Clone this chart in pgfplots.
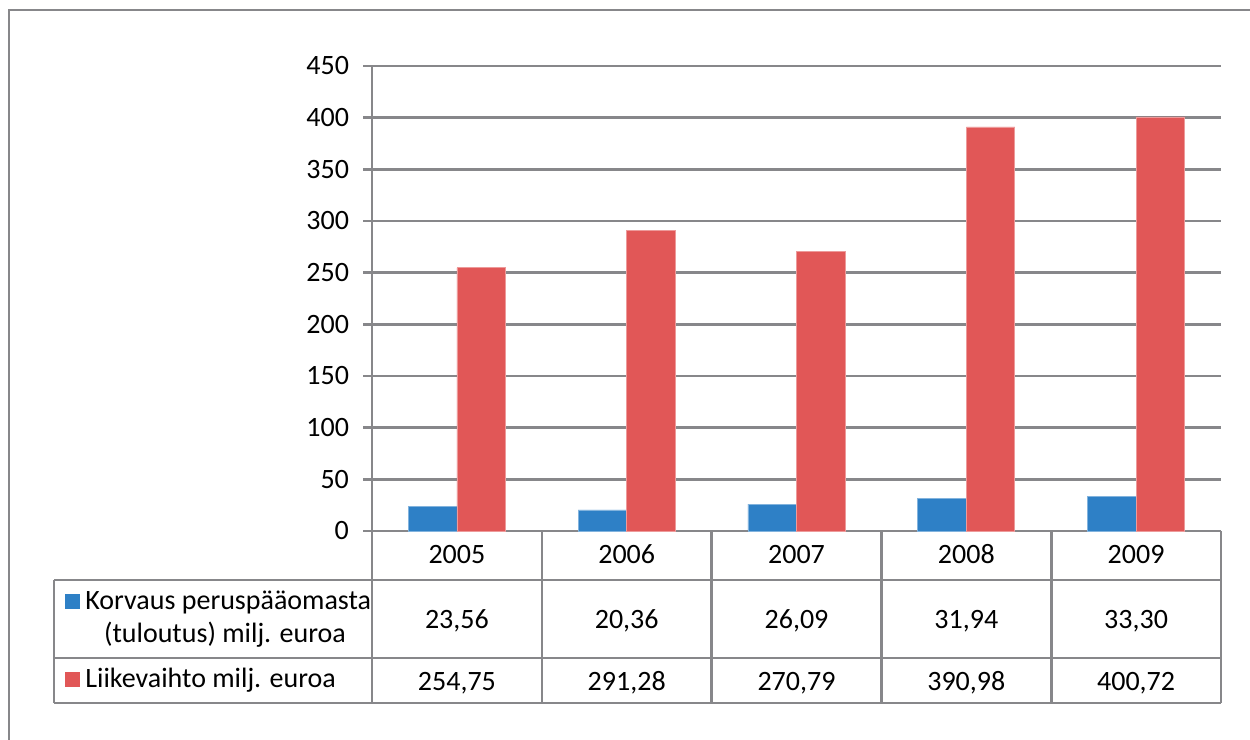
\documentclass[border=0pt]{standalone}
\usepackage{pgfplots}
\pgfplotsset{compat=1.18}
\usepackage{pgfplotstable}
\usepackage{fontspec}
\setmainfont{Carlito}
\definecolor{cblue}{RGB}{46,128,198}
\definecolor{cred}{RGB}{225,87,87}
\definecolor{cgrid}{RGB}{135,135,138}
\pgfplotstableread{
x year k l
0 2005 23.56 254.75
1 2006 20.36 291.28
2 2007 26.09 270.79
3 2008 31.94 390.98
4 2009 33.30 400.72
}\data
\begin{document}
\begin{tikzpicture}[font=\fontsize{14pt}{17pt}\selectfont]
\begin{scope}[x=0.5pt,y=-0.5pt]
\useasboundingbox (0,0) rectangle (1250,740);
\draw[cgrid, line width=1.3pt] (9,745) -- (9,10) -- (1255,10);
\end{scope}
\begin{axis}[at={(186pt,-265.5pt)}, anchor=south west, scale only axis,
  width=424.5pt, height=232.5pt,
  xmin=-0.5, xmax=4.5, ymin=0, ymax=450,
  ytick={0,50,...,450},
  axis x line=none, axis y line*=left,
  axis line style={-, cgrid, line width=1.3pt},
  ymajorgrids, grid style={cgrid, line width=1.3pt},
  ytick style={cgrid, line width=1.3pt},
  tick align=outside, major tick length=4.5pt,
  /pgf/number format/assume math mode=true,
  yticklabel style={font=\fontsize{14pt}{17pt}\selectfont, text=black, xshift=-3.5pt},
  ybar, bar width=0.2857, clip=false]
\addplot[fill=cblue, draw=cblue!60!white, line width=0.4pt, bar shift=-0.14285] table[x=x,y=k]{\data};
\addplot[fill=cred, draw=cred!60!white, line width=0.4pt, bar shift=0.14285] table[x=x,y=l]{\data};
\end{axis}
\begin{scope}[x=0.5pt,y=-0.5pt]
\begin{scope}[cgrid, line width=1.3pt]
\draw (372,531) -- (372,703);
\draw (54,580) -- (1221,580);
\draw (54,658) -- (1221,658);
\draw (54,703) -- (1221,703);
\draw (54,580) -- (54,703);
\foreach \xx in {541.8,711.6,881.4,1051.2,1221} \draw (\xx,531) -- (\xx,703);
\end{scope}
\foreach \cx/\yr/\a/\b in {456.9/2005/{23,56}/{254,75}, 626.7/2006/{20,36}/{291,28}, 796.5/2007/{26,09}/{270,79}, 966.3/2008/{31,94}/{390,98}, 1136.1/2009/{33,30}/{400,72}}{
  \node[anchor=base, inner sep=0pt] at (\cx,563) {\yr};
  \node[anchor=base, inner sep=0pt] at (\cx,628) {\a};
  \node[anchor=base, inner sep=0pt] at (\cx,690) {\b};
}
\fill[cblue] (65,594) rectangle (80,609);
\fill[cred] (65,672) rectangle (80,687);
\node[anchor=base west, inner sep=0pt] at (85,609) {Korvaus peruspääomasta};
\node[anchor=base, inner sep=0pt] at (225,642) {(tuloutus) milj. euroa};
\node[anchor=base west, inner sep=0pt] at (85,687) {Liikevaihto milj. euroa};
\end{scope}
\end{tikzpicture}
\end{document}
